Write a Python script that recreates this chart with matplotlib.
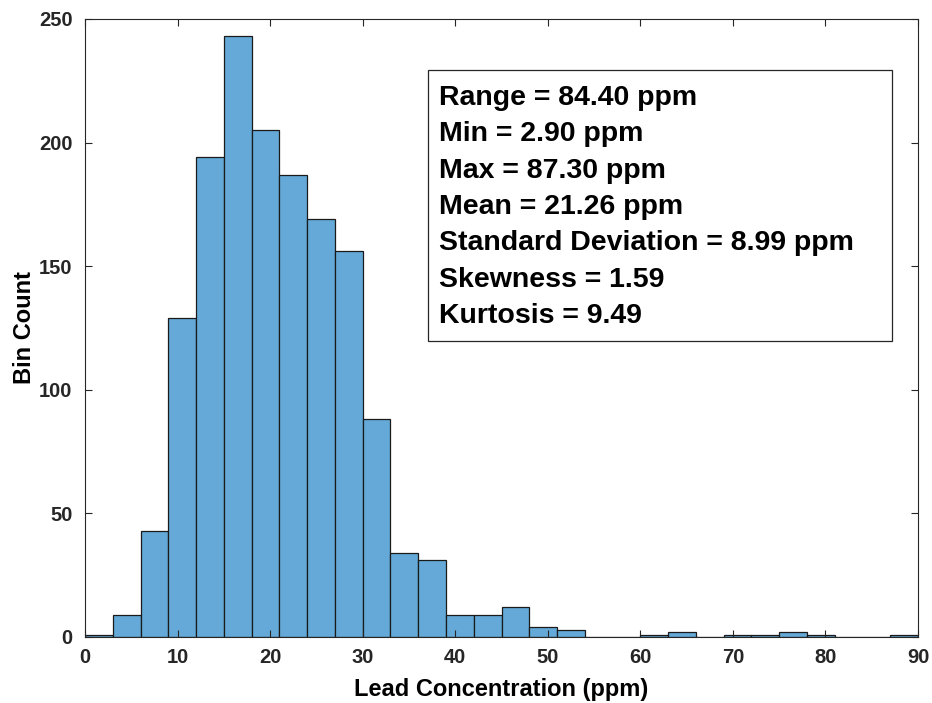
import numpy as np
import matplotlib.pyplot as plt
from matplotlib.patches import Rectangle

plt.rcParams['font.family'] = ['Liberation Sans', 'DejaVu Sans']
plt.rcParams['font.weight'] = 'bold'
plt.rcParams['text.color'] = '#262626'

# histogram of lead concentration, 3 ppm bins from 0 to 90
bin_edges = np.arange(0, 93, 3)
bin_counts = [1, 9, 43, 129, 194, 243, 205, 187, 169, 156,
              88, 34, 31, 9, 9, 12, 4, 3, 0, 0,
              1, 2, 0, 1, 1, 2, 1, 0, 0, 1]

stats_lines = [
    'Range = 84.40 ppm',
    'Min = 2.90 ppm',
    'Max = 87.30 ppm',
    'Mean = 21.26 ppm',
    'Standard Deviation = 8.99 ppm',
    'Skewness = 1.59',
    'Kurtosis = 9.49',
]

fig = plt.figure(figsize=(9.32, 7.03), dpi=100)
ax = fig.add_axes([85 / 932, 66 / 703, 833 / 932, 618 / 703])

ax.bar(bin_edges[:-1], bin_counts, width=3, align='edge',
       color='#64a9d7', edgecolor='#1a1a1a', linewidth=0.9)

ax.set_xlim(0, 90)
ax.set_ylim(0, 250)
ax.set_xticks(np.arange(0, 100, 10))
ax.set_yticks(np.arange(0, 300, 50))
ax.tick_params(direction='in', top=True, right=True, labelsize=14.5,
               color='#262626', labelcolor='#262626', length=5, width=0.8)
ax.tick_params(axis='x', pad=8)
ax.tick_params(axis='y', pad=9)
for s in ax.spines.values():
    s.set_color('#262626')
    s.set_linewidth(0.8)

ax.set_xlabel('Lead Concentration (ppm)', fontsize=17, fontweight='bold', labelpad=8)
ax.set_ylabel('Bin Count', fontsize=17, fontweight='bold', labelpad=2)

# annotation box with summary statistics
ax.add_patch(Rectangle((0.4118, 0.479), 0.557, 0.4385, transform=ax.transAxes,
                       facecolor='white', edgecolor='#262626', linewidth=0.9,
                       zorder=3))
ax.text(0.425, 0.893, '\n'.join(stats_lines), transform=ax.transAxes,
        fontsize=20.5, fontweight='bold', va='top', ha='left', color='black',
        linespacing=1.515, zorder=4)

fig.savefig('out.png', dpi=100)
